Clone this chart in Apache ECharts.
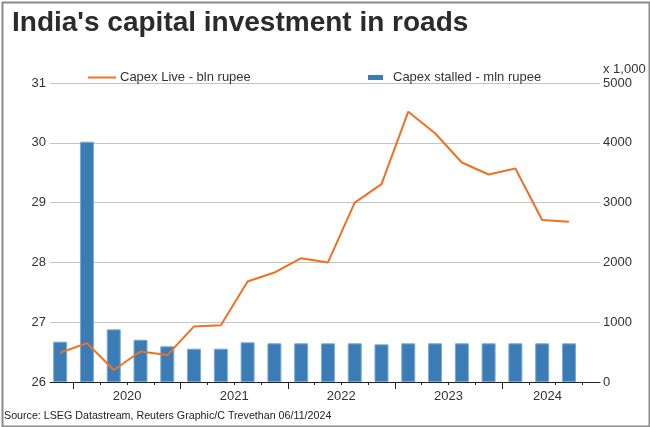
<!DOCTYPE html>
<html>
<head>
<meta charset="utf-8">
<script src="https://cdn.jsdelivr.net/npm/echarts@6/dist/echarts.min.js"></script>
<style>html,body{margin:0;padding:0;background:#fff}#c{width:650px;height:427px}</style>
</head>
<body>
<div id="c"></div>
<script>
// Quarterly data, Q4 2019 .. Q3 2024
const categories = ['Q4 2019','Q1 2020','Q2 2020','Q3 2020','Q4 2020','Q1 2021','Q2 2021','Q3 2021','Q4 2021','Q1 2022','Q2 2022','Q3 2022','Q4 2022','Q1 2023','Q2 2023','Q3 2023','Q4 2023','Q1 2024','Q2 2024','Q3 2024'];
const capexLive = [26.49, 26.65, 26.20, 26.51, 26.45, 26.93, 26.95, 27.68, 27.83, 28.07, 28.00, 29.00, 29.31, 30.52, 30.16, 29.67, 29.47, 29.57, 28.71, 28.68];
const capexStalled = [674, 4018, 881, 707, 597, 557, 557, 664, 647, 647, 647, 647, 630, 647, 647, 647, 647, 647, 647, 647];
const leftTicks = [26, 27, 28, 29, 30, 31];
const rightTicks = [0, 1000, 2000, 3000, 4000, 5000];
const yearLabels = ['2020', '2021', '2022', '2023', '2024'];
const yearLabelPos = [2.5, 6.5, 10.5, 14.5, 18.2];
const quarterBoundaries = categories.map((c, i) => i + 0.5);
const yearBoundaries = [0.5, 4.5, 8.5, 12.5, 16.5];

const FONT = "'Liberation Sans', Arial, sans-serif";
const chart = echarts.init(document.getElementById('c'));
const xMin = -0.38, xMax = 20.16;

chart.setOption({
  animation: false,
  backgroundColor: '#ffffff',
  textStyle: { fontFamily: FONT },
  title: {
    text: "India's capital investment in roads",
    left: 7, top: 4,
    textStyle: { fontFamily: FONT, fontSize: 28, fontWeight: 'bold', color: '#2b2b2b' }
  },
  legend: [
    {
      data: [{ name: 'Capex Live - bln rupee', icon: 'rect' }],
      left: 83, top: 66, itemWidth: 28, itemHeight: 2, itemGap: 0,
      itemStyle: { borderWidth: 0 },
      textStyle: { fontFamily: FONT, fontSize: 13, color: '#333', padding: [0, 0, 0, -1] }
    },
    {
      data: [{ name: 'Capex stalled - mln rupee', icon: 'rect' }],
      left: 363, top: 66, itemWidth: 15, itemHeight: 5, itemGap: 0,
      itemStyle: { borderWidth: 0 },
      textStyle: { fontFamily: FONT, fontSize: 13, color: '#333', padding: [0, 0, 0, 5] }
    }
  ],
  grid: { left: 50, right: 50, top: 83, bottom: 45 },
  xAxis: [
    {
      type: 'value', min: xMin, max: xMax,
      axisLine: { show: true, lineStyle: { color: '#222', width: 1 } },
      axisTick: { show: true, length: 3, customValues: quarterBoundaries, lineStyle: { color: '#222' } },
      axisLabel: {
        show: true, customValues: yearLabelPos, margin: 8,
        fontFamily: FONT, fontSize: 13, color: '#333',
        formatter: v => { const k = yearLabelPos.findIndex(p => Math.abs(p - v) < 1e-6); return k >= 0 ? yearLabels[k] : ''; }
      },
      splitLine: { show: false }
    },
    {
      type: 'value', min: xMin, max: xMax, position: 'bottom',
      axisLine: { show: false },
      axisTick: { show: true, length: 7, customValues: yearBoundaries, lineStyle: { color: '#222' } },
      axisLabel: { show: false },
      splitLine: { show: false }
    }
  ],
  yAxis: [
    {
      type: 'value', min: 26, max: 31, interval: 1, position: 'left',
      axisLine: { show: false }, axisTick: { show: false },
      axisLabel: { margin: 4, fontFamily: FONT, fontSize: 13, color: '#333', formatter: v => leftTicks.includes(v) ? String(v) : '' },
      splitLine: { show: true, lineStyle: { color: '#c4c4c4', width: 1 } }
    },
    {
      type: 'value', min: 0, max: 5000, interval: 1000, position: 'right',
      axisLine: { show: false }, axisTick: { show: false },
      axisLabel: { margin: 3, fontFamily: FONT, fontSize: 13, color: '#333', formatter: v => rightTicks.includes(v) ? String(v) : '' },
      splitLine: { show: false }
    }
  ],
  graphic: [
    { type: 'text', left: 603, top: 63, style: { text: 'x 1,000', font: "13px 'Liberation Sans', Arial, sans-serif", fill: '#333' } },
    { type: 'text', left: 4, top: 411, style: { text: 'Source: LSEG Datastream, Reuters Graphic/C Trevethan 06/11/2024', font: "10.7px 'Liberation Sans', Arial, sans-serif", fill: '#222' } },
    { type: 'rect', left: 0, top: 0, silent: true, shape: { x: 0, y: 0, width: 647, height: 424 }, style: { fill: 'none', stroke: '#8a8a8a', lineWidth: 2 } }
  ],
  series: [
    {
      name: 'Capex stalled - mln rupee', type: 'bar', xAxisIndex: 0, yAxisIndex: 1,
      barWidth: 14,
      itemStyle: { color: '#3b7cb6', borderColor: '#78acd6', borderWidth: 1 },
      data: capexStalled.map((v, i) => [i, v]),
      z: 2
    },
    {
      name: 'Capex Live - bln rupee', type: 'line', xAxisIndex: 0, yAxisIndex: 0,
      symbol: 'none',
      lineStyle: { color: '#f07021', width: 2 },
      itemStyle: { color: '#f07021' },
      data: capexLive.map((v, i) => [i, v]),
      z: 3
    }
  ]
});
</script>
</body>
</html>
